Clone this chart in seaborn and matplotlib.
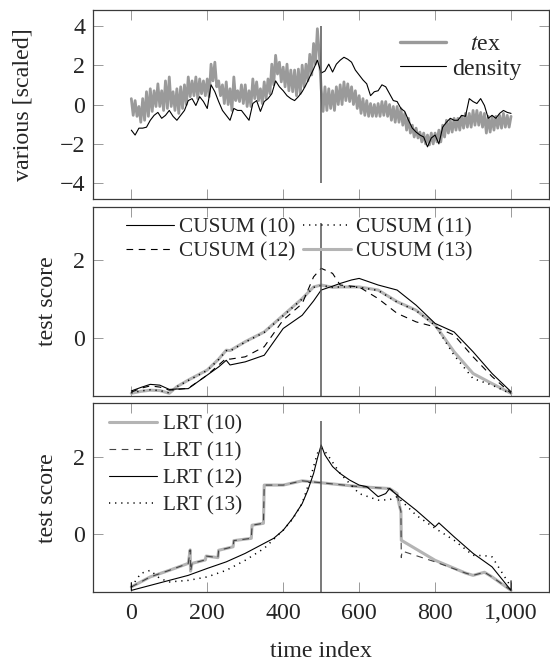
import numpy as np
import pandas as pd
import matplotlib
matplotlib.use('Agg')
import matplotlib.pyplot as plt
from matplotlib.ticker import FuncFormatter
import seaborn as sns

# ---- top panel: scaled signals, sampled every 10 time steps ----
t_grid = list(range(0, 1001, 10))
density = [-1.3, -1.55, -1.2, -1.2, -1.15, -0.8, -0.55, -0.4, -0.7, -0.55,
           -0.3, -0.6, -0.8, -0.55, -0.3, 0.2, 0.3, -0.05, 0.4, 0.15,
           -0.2, 1.0, 0.65, 0.15, -0.3, -0.55, -0.8, -0.2, -0.3, -0.3,
           -0.55, -0.8, 0.05, 0.2, -0.35, 0.15, 0.3, 0.55, 1.2, 0.9,
           0.7, 0.45, 0.3, 0.2, 0.4, 0.65, 1.0, 1.4, 1.8, 2.25,
           1.6, 1.7, 2.05, 1.65, 2.05, 2.25, 2.4, 2.3, 2.15, 1.75,
           1.5, 1.25, 1.05, 0.45, 0.65, 0.7, 1.0, 0.9, 0.55, 0.2,
           0.15, -0.2, -0.35, -0.8, -1.2, -1.4, -1.55, -1.65, -2.15, -1.7,
           -1.55, -2.0, -1.15, -0.9, -0.7, -0.8, -0.8, -0.55, -0.6, 0.3,
           0.15, 0.05, 0.3, -0.05, -0.7, -0.55, -0.7, -0.45, -0.3, -0.4, -0.45]

# t_ex is very noisy: upper peaks at t = 0,10,...,1000 and lower dips at t = 5,15,...,995
tex_hi = [0.3, 0.2, -0.1, 0.3, 0.65, 0.8, 0.7, 1.05, 0.7, 1.2,
          1.4, 0.65, 0.8, 0.9, 1.0, 1.4, 1.2, 1.4, 1.3, 1.2,
          1.3, 2.05, 2.15, 1.2, 1.0, 1.15, 0.8, 1.4, 0.7, 1.0,
          1.0, 0.7, 1.3, 1.15, 0.8, 1.15, 1.3, 2.05, 2.5, 2.15,
          1.9, 2.05, 1.75, 1.75, 1.8, 2.0, 2.05, 2.55, 3.1, 3.85,
          0.8, 0.9, 0.8, 0.7, 0.9, 1.0, 1.15, 1.05, 0.9, 0.7,
          0.45, 0.3, 0.2, 0.05, 0.0, 0.05, 0.15, 0.15, 0.0, -0.1,
          -0.1, -0.2, -0.45, -0.7, -1.05, -1.2, -1.4, -1.45, -1.55, -1.45,
          -1.45, -1.3, -1.05, -0.8, -0.8, -0.7, -0.7, -0.6, -0.45, -0.45,
          -0.3, -0.3, -0.4, -0.45, -0.6, -0.6, -0.6, -0.55, -0.45, -0.55, -0.6]
tex_lo = [-0.55, -0.6, -0.9, -0.8, -0.6, -0.35, -0.1, -0.1, -0.3, -0.2,
          -0.1, -0.3, -0.45, -0.2, 0.0, 0.4, 0.45, 0.3, 0.55, 0.45,
          0.4, 1.2, 0.9, 0.45, 0.05, 0.0, -0.3, 0.2, 0.15, 0.05,
          -0.1, -0.1, 0.3, 0.2, 0.05, 0.3, 0.55, 1.0, 1.55, 1.15,
          0.9, 0.7, 0.65, 0.45, 0.55, 0.9, 1.2, 1.5, 2.05, 2.6,
          -0.35, -0.3, -0.2, -0.3, 0.0, 0.0, 0.2, 0.15, 0.0, -0.2,
          -0.45, -0.55, -0.6, -0.6, -0.6, -0.6, -0.55, -0.6, -0.8, -0.9,
          -0.9, -1.05, -1.3, -1.45, -1.65, -1.7, -1.9, -2.0, -2.05, -2.0,
          -1.9, -1.9, -1.65, -1.45, -1.4, -1.3, -1.3, -1.2, -1.15, -1.15,
          -1.05, -1.05, -1.15, -1.45, -1.4, -1.3, -1.2, -1.2, -1.15, -1.15]

# ---- middle panel: CUSUM scores ----
cusum_t = [0, 25, 50, 75, 100, 120, 150, 200, 230, 250, 260, 300, 350, 400, 450,
           480, 500, 530, 550, 580, 600, 650, 700, 750, 800, 850, 900, 950, 1000]
cusum10 = [-1.37, -1.28, -1.2, -1.22, -1.33, -1.32, -1.31, -0.96, -0.75, -0.58, -0.7, -0.62, -0.45, 0.24, 0.58,
           0.95, 1.23, 1.33, 1.4, 1.49, 1.53, 1.36, 1.23, 0.84, 0.37, 0.15, -0.36, -0.92, -1.39]
cusum11 = [-1.42, -1.37, -1.34, -1.36, -1.42, -1.26, -1.1, -0.84, -0.56, -0.33, -0.34, -0.11, 0.14, 0.57, 1.0,
           1.3, 1.35, 1.3, 1.31, 1.31, 1.3, 1.22, 0.92, 0.7, 0.32, -0.45, -1.05, -1.22, -1.44]
cusum12 = [-1.4, -1.3, -1.24, -1.27, -1.35, -1.33, -1.3, -0.96, -0.7, -0.53, -0.55, -0.49, -0.23, 0.46, 0.88,
           1.57, 1.79, 1.66, 1.36, 1.33, 1.31, 1.01, 0.63, 0.41, 0.28, 0.07, -0.49, -1.0, -1.43]
cusum13 = [-1.43, -1.38, -1.35, -1.36, -1.43, -1.26, -1.09, -0.83, -0.55, -0.32, -0.33, -0.1, 0.15, 0.58, 1.01,
           1.31, 1.36, 1.3, 1.31, 1.31, 1.31, 1.23, 0.93, 0.71, 0.33, -0.36, -0.92, -1.18, -1.43]

# ---- bottom panel: LRT scores ----
lrt10_t = [0, 50, 100, 150, 155, 156, 160, 195, 197, 228, 230, 268, 270, 316, 318, 348, 350,
           400, 450, 500, 600, 680, 700, 706, 710, 711, 800, 880, 900, 930, 950, 1000]
lrt10 = [-1.36, -1.1, -0.93, -0.75, -0.4, -0.95, -0.75, -0.66, -0.56, -0.6, -0.41, -0.32, -0.16, -0.1, 0.24, 0.29, 1.28,
         1.28, 1.39, 1.34, 1.24, 1.19, 1.06, 0.75, 0.6, -0.15, -0.67, -1.0, -1.06, -0.98, -1.1, -1.45]
lrt11_t = [0, 50, 100, 150, 155, 156, 160, 195, 197, 228, 230, 268, 270, 316, 318, 348, 350,
           400, 450, 500, 600, 680, 700, 706, 710, 711, 713, 800, 880, 900, 930, 950, 1000]
lrt11 = [-1.36, -1.1, -0.93, -0.75, -0.4, -0.95, -0.75, -0.66, -0.56, -0.6, -0.41, -0.32, -0.16, -0.1, 0.24, 0.29, 1.28,
         1.28, 1.39, 1.34, 1.24, 1.19, 1.06, 0.75, 0.6, -0.6, -0.43, -0.71, -1.0, -1.06, -0.98, -1.1, -1.45]
lrt12_t = [0, 0, 50, 100, 150, 200, 250, 300, 350, 375, 400, 425, 450, 465, 480, 490, 500, 510, 530, 550,
           575, 600, 620, 650, 670, 680, 700, 750, 800, 810, 850, 900, 950, 1000, 1000]
lrt12 = [-1.25, -1.45, -1.32, -1.19, -1.06, -0.88, -0.71, -0.49, -0.23, -0.1, 0.11, 0.42, 0.8, 1.15, 1.58, 1.97, 2.32, 2.06, 1.76, 1.58,
         1.41, 1.28, 1.24, 0.98, 1.06, 1.19, 1.02, 0.63, 0.2, 0.3, -0.06, -0.49, -0.84, -1.45, -1.2]
lrt13_t = [0, 25, 50, 75, 100, 150, 200, 250, 300, 350, 400, 425, 450, 470, 480, 490, 500, 510, 520, 550,
           600, 650, 680, 700, 750, 800, 850, 900, 930, 950, 1000]
lrt13 = [-1.36, -1.01, -0.93, -1.14, -1.23, -1.19, -1.1, -0.93, -0.67, -0.36, 0.11, 0.4, 0.81, 1.4, 1.76, 2.1, 2.23, 2.15, 2.02, 1.58,
         1.06, 0.89, 0.9, 0.98, 0.5, 0.16, -0.15, -0.54, -0.55, -0.58, -1.36]

change_point = 500

sns.set_theme(style='ticks')
plt.rcParams['font.family'] = ['Liberation Serif', 'DejaVu Serif']
plt.rcParams['mathtext.fontset'] = 'stix'

GRAY = '#9a9a9a'
LIGHT = '#b4b4b4'
VLINE = '#555555'
FS = 17.3
LFS = 15.3

fig = plt.figure(figsize=(5.5, 6.63), dpi=100)
ax1 = fig.add_axes([0.1697, 0.6998, 0.8285, 0.2851])
ax2 = fig.add_axes([0.1697, 0.4027, 0.8285, 0.2851])
ax3 = fig.add_axes([0.1697, 0.1066, 0.8285, 0.2851])

# interleave the peaks and dips of t_ex into one series
tex_x = []
tex_y = []
for i, t in enumerate(t_grid):
    tex_x.append(t)
    tex_y.append(tex_hi[i])
    if i < len(tex_lo):
        tex_x.append(t + 5)
        tex_y.append(tex_lo[i])

top = pd.DataFrame({'t': tex_x, 'v': tex_y})
sns.lineplot(data=top, x='t', y='v', ax=ax1, color=GRAY, lw=2.0,
             estimator=None, sort=False, label='   $t$ex')
sns.lineplot(x=t_grid, y=density, ax=ax1, color='black', lw=0.8,
             estimator=None, sort=False, label='density')
ax1.vlines(change_point, -4, 4, color=VLINE, lw=1.1)
ax1.set_ylim(-4.8, 4.8)
ax1.set_yticks([-4, -2, 0, 2, 4])
ax1.set_ylabel('various [scaled]', fontsize=FS)
ax1.yaxis.set_label_coords(-0.132, 0.5)
leg = ax1.legend(loc='upper left', bbox_to_anchor=(0.673, 0.875), frameon=False,
                 fontsize=FS, handlelength=1.9, handletextpad=0.25,
                 labelspacing=0.1, borderpad=0, borderaxespad=0)
leg.get_lines()[0].set_linewidth(2.4)

# CUSUM
sns.lineplot(x=cusum_t, y=cusum13, ax=ax2, color=LIGHT, lw=2.2, estimator=None, sort=False, label='CUSUM (13)')
sns.lineplot(x=cusum_t, y=cusum11, ax=ax2, color='black', lw=1.1, linestyle=(0, (0.8, 3.2)),
             estimator=None, sort=False, label='CUSUM (11)')
sns.lineplot(x=cusum_t, y=cusum12, ax=ax2, color='black', lw=0.8, linestyle=(0, (6, 5)),
             estimator=None, sort=False, label='CUSUM (12)')
sns.lineplot(x=cusum_t, y=cusum10, ax=ax2, color='black', lw=0.8, estimator=None, sort=False, label='CUSUM (10)')
ax2.vlines(change_point, -1.5, 2.95, color=VLINE, lw=1.1)
ax2.set_ylim(-1.5, 3.37)
ax2.set_yticks([0, 2])
ax2.set_ylabel('test score', fontsize=FS)
ax2.yaxis.set_label_coords(-0.078, 0.5)
h, l = ax2.get_legend_handles_labels()
order = [l.index('CUSUM (10)'), l.index('CUSUM (12)'), l.index('CUSUM (11)'), l.index('CUSUM (13)')]
ax2.legend([h[i] for i in order], [l[i] for i in order], ncol=2, loc='upper left',
           bbox_to_anchor=(0.072, 0.945), frameon=False, fontsize=LFS,
           handlelength=2.25, handletextpad=0.25, columnspacing=0.35,
           labelspacing=0.2, borderpad=0, borderaxespad=0)

# LRT
sns.lineplot(x=lrt10_t, y=lrt10, ax=ax3, color=LIGHT, lw=2.2, estimator=None, sort=False, label='LRT (10)')
sns.lineplot(x=lrt11_t, y=lrt11, ax=ax3, color='#444444', lw=0.8, linestyle=(0, (6, 5)),
             estimator=None, sort=False, label='LRT (11)')
sns.lineplot(x=lrt12_t, y=lrt12, ax=ax3, color='black', lw=0.8, estimator=None, sort=False, label='LRT (12)')
sns.lineplot(x=lrt13_t, y=lrt13, ax=ax3, color='black', lw=1.1, linestyle=(0, (0.8, 3.2)),
             estimator=None, sort=False, label='LRT (13)')
ax3.vlines(change_point, -1.5, 2.95, color=VLINE, lw=1.1)
ax3.set_ylim(-1.5, 3.4)
ax3.set_yticks([0, 2])
ax3.set_ylabel('test score', fontsize=FS)
ax3.yaxis.set_label_coords(-0.078, 0.5)
ax3.legend(loc='upper left', bbox_to_anchor=(0.034, 0.94), frameon=False, fontsize=LFS,
           handlelength=2.25, handletextpad=0.3, labelspacing=0.33,
           borderpad=0, borderaxespad=0)
ax3.set_xlabel('time index', fontsize=FS)
ax3.xaxis.set_label_coords(0.5, -0.255)

for ax in (ax1, ax2, ax3):
    ax.set_xlim(-100, 1100)
    ax.set_xticks([0, 200, 400, 600, 800, 1000])
    ax.xaxis.set_major_formatter(FuncFormatter(lambda v, p: '{:,}'.format(int(v))))
    ax.tick_params(direction='in', length=7.5, width=0.6, color='#8a8a8a',
                   top=True, right=True, labelsize=FS)
    ax.tick_params(axis='x', pad=8)
    ax.tick_params(axis='y', pad=6)
    for s in ax.spines.values():
        s.set_color('#3a3a3a')
        s.set_linewidth(0.9)
    if ax is not ax3:
        ax.tick_params(labelbottom=False)
        ax.set_xlabel('')

fig.savefig('out.png', dpi=100)
